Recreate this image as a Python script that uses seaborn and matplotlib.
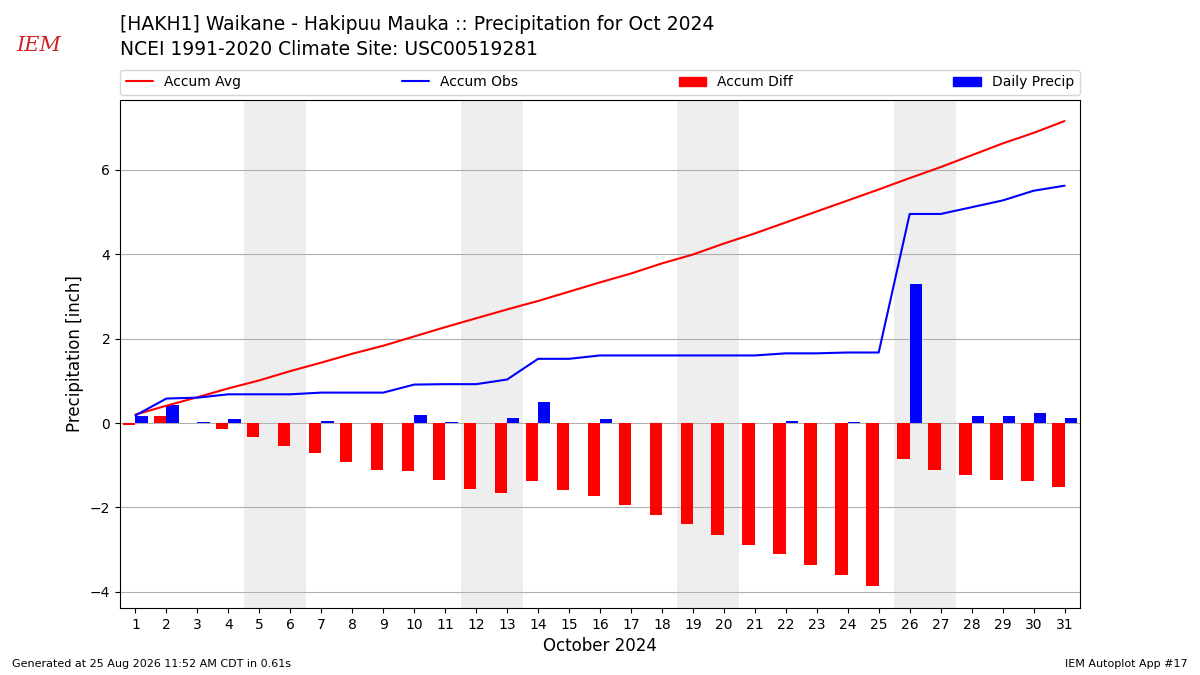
import numpy as np
import pandas as pd
import seaborn as sns
import matplotlib.pyplot as plt
from matplotlib.patches import Patch
from matplotlib.lines import Line2D

# October 2024 daily data
days = list(range(1, 32))
daily_precip = [0.17, 0.43, 0.02, 0.09, 0.00, 0.00, 0.05, 0.00, 0.00, 0.19,
                0.02, 0.00, 0.12, 0.50, 0.00, 0.09, 0.00, 0.00, 0.00, 0.00,
                0.00, 0.05, 0.00, 0.02, 0.00, 3.29, 0.00, 0.17, 0.17, 0.24,
                0.12]
accum_obs = [0.18, 0.58, 0.60, 0.68, 0.68, 0.68, 0.72, 0.72, 0.72, 0.91,
             0.92, 0.92, 1.03, 1.52, 1.52, 1.60, 1.60, 1.60, 1.60, 1.60,
             1.60, 1.65, 1.65, 1.67, 1.67, 4.95, 4.95, 5.11, 5.27, 5.50,
             5.62]
accum_avg = [0.20, 0.41, 0.61, 0.82, 1.01, 1.23, 1.43, 1.64, 1.83, 2.05,
             2.27, 2.48, 2.69, 2.89, 3.11, 3.33, 3.54, 3.78, 3.99, 4.25,
             4.49, 4.75, 5.01, 5.27, 5.53, 5.80, 6.06, 6.34, 6.62, 6.87,
             7.15]
accum_diff = [-0.05, 0.17, -0.01, -0.14, -0.33, -0.55, -0.71, -0.92, -1.11, -1.14,
              -1.35, -1.56, -1.66, -1.37, -1.59, -1.73, -1.94, -2.18, -2.39, -2.65,
              -2.89, -3.10, -3.36, -3.60, -3.86, -0.85, -1.11, -1.23, -1.35, -1.37,
              -1.52]
weekends = [(5, 6), (12, 13), (19, 20), (26, 27)]

title = ("[HAKH1] Waikane - Hakipuu Mauka :: Precipitation for Oct 2024\n"
         "NCEI 1991-2020 Climate Site: USC00519281")

sns.set_style("white")
plt.rcParams['font.family'] = ['DejaVu Sans']
plt.rcParams['text.color'] = 'black'
plt.rcParams['axes.labelcolor'] = 'black'
plt.rcParams['xtick.color'] = 'black'
plt.rcParams['ytick.color'] = 'black'

fig = plt.figure(figsize=(12, 6.75), dpi=100)
ax = fig.add_axes([0.1, 0.0993, 0.8, 0.7526])

# weekend shading
for start, end in weekends:
    ax.axvspan(start - 0.5, end + 0.5, color='#EEEEEE', zorder=0, lw=0)

bars = pd.DataFrame({
    'day': days * 2,
    'value': accum_diff + daily_precip,
    'kind': ['Accum Diff'] * 31 + ['Daily Precip'] * 31,
})
sns.barplot(data=bars, x='day', y='value', hue='kind',
            hue_order=['Accum Diff', 'Daily Precip'],
            palette={'Accum Diff': 'red', 'Daily Precip': 'blue'},
            native_scale=True, dodge=True, width=0.8, gap=0,
            saturation=1, errorbar=None, legend=False, ax=ax, zorder=3,
            linewidth=0, edgecolor='none')

lines = pd.DataFrame({'day': days, 'avg': accum_avg, 'obs': accum_obs})
sns.lineplot(data=lines, x='day', y='avg', color='red', lw=1.5, ax=ax, zorder=4)
sns.lineplot(data=lines, x='day', y='obs', color='blue', lw=1.5, ax=ax, zorder=4)

ax.set_xlim(0.5, 31.5)
ax.set_ylim(-4.38, 7.65)
ax.set_xticks(days)
ax.set_xticklabels([str(d) for d in days])
ax.set_yticks([-4, -2, 0, 2, 4, 6])
ax.yaxis.grid(True, color='#b0b0b0', lw=0.8, zorder=1)
ax.set_axisbelow(True)
ax.tick_params(axis='both', labelsize=10, length=3.5, direction='out',
               bottom=True, left=True, colors='black')
for s in ax.spines.values():
    s.set_color('black')
    s.set_linewidth(0.8)
ax.set_xlabel('October 2024', fontsize=12)
ax.set_ylabel('Precipitation [inch]', fontsize=12)

handles = [Line2D([], [], color='red', lw=1.5),
           Line2D([], [], color='blue', lw=1.5),
           Patch(color='red'), Patch(color='blue')]
labels = ['Accum Avg', 'Accum Obs', 'Accum Diff', 'Daily Precip']
leg = ax.legend(handles, labels, loc='lower left', bbox_to_anchor=(0, 1.01, 1, 0.1),
                ncol=4, mode='expand', fontsize=10, borderaxespad=0, frameon=True)
for t in leg.get_texts():
    t.set_color('black')

fig.text(0.1, 0.913, title, fontsize=13.5, ha='left', va='bottom', linespacing=1.35)
fig.text(0.032, 0.932, 'IEM', fontsize=15, color='#cc2222', family='serif',
         style='italic', ha='center', va='center')
fig.text(0.01, 0.012, 'Generated at 25 Aug 2026 11:52 AM CDT in 0.61s', fontsize=8)
fig.text(0.99, 0.012, 'IEM Autoplot App #17', fontsize=8, ha='right')

fig.savefig('out.png', dpi=100)
